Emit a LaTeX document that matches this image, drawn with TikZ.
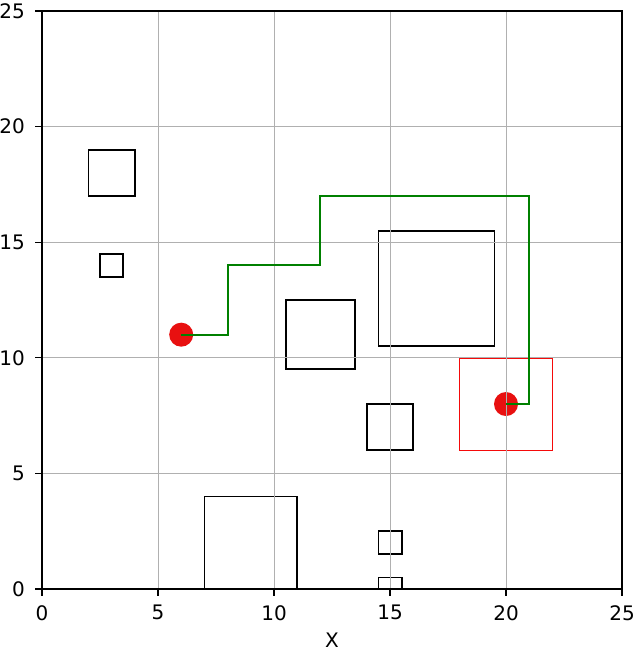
\documentclass[tikz,border=0pt]{standalone}
\usepackage{fontspec}
\setmainfont{DejaVu Sans}
\definecolor{gridgray}{HTML}{B0B0B0}
\definecolor{pathgreen}{HTML}{008000}
\definecolor{dotred}{RGB}{232,16,16}
\definecolor{boxred}{RGB}{245,10,10}
\begin{document}
\begin{tikzpicture}[x=1pt,y=1pt,
  gridline/.style={draw=gridgray, line width=1pt},
  obst/.style={draw=black, line width=1.8pt},
  goalbox/.style={draw=boxred, line width=1.5pt},
  pathline/.style={draw=pathgreen, line width=2pt},
  dot/.style={circle, fill=dotred, inner sep=0pt, minimum size=24pt},
  spine/.style={draw=black, line width=1.3pt},
  tickmark/.style={draw=black, line width=1.2pt},
  ticklab/.style={font=\fontsize{20}{24}\selectfont, inner sep=0pt},
]
\useasboundingbox (0,0) rectangle (634,652);
\begin{scope}[shift={(42,63)}, x=23.2pt, y=23.12pt]
  \begin{scope}
    \clip (0,0) rectangle (25,25);
    % obstacles
    \draw[obst] (2,17) rectangle (4,19);
    \draw[obst] (2.5,13.5) rectangle (3.5,14.5);
    \draw[obst] (10.5,9.5) rectangle (13.5,12.5);
    \draw[obst] (14.5,10.5) rectangle (19.5,15.5);
    \draw[obst] (14,6) rectangle (16,8);
    \draw[obst] (7,0) rectangle (11,4);
    \draw[obst] (14.5,1.5) rectangle (15.5,2.5);
    \draw[obst] (14.5,-0.5) rectangle (15.5,0.5);
    % goal region
    \draw[goalbox] (18,6) rectangle (22,10);
    % start and goal
    \node[dot] (start) at (6,11) {};
    \node[dot] (goal) at (20,8) {};
    % grid
    \foreach \v in {5,10,15,20} {
      \draw[gridline] (\v,0) -- (\v,25);
      \draw[gridline] (0,\v) -- (25,\v);
    }
    % path
    \draw[pathline] (start.center) -- (8,11) -- (8,14) -- (12,14) -- (12,17)
      -- (21,17) -- (21,8) -- (goal.center);
  \end{scope}
  % spines
  \draw[spine] (0,0) rectangle (25,25);
  % ticks and labels
  \foreach \v in {0,5,10,15,20,25} {
    \draw[tickmark] (\v,0) -- ++(0,-7pt);
    \node[ticklab, anchor=north] (xl\v) at ([yshift=-16pt]\v,0) {\v};
    \draw[tickmark] (0,\v) -- ++(-7pt,0);
    \node[ticklab, anchor=east] (yl\v) at ([xshift=-17pt]0,\v) {\v};
  }
  \node[ticklab, anchor=north] (xlabel) at ([yshift=-44pt]12.5,0) {X};
\end{scope}
\end{tikzpicture}
\end{document}
